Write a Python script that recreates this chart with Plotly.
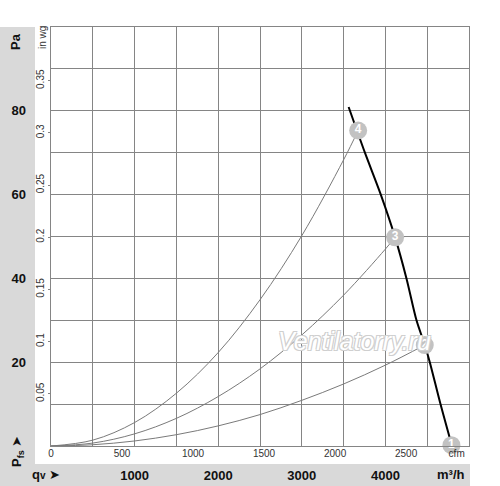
import plotly.graph_objects as go

# ---- data ----
# fan characteristic curve: flow (m3/h) vs static pressure (Pa)
fan_q = [3560, 3755, 3945, 4116, 4252, 4372, 4471, 4531, 4659, 4785]
fan_p = [80.9, 70.0, 60.0, 49.8, 40.0, 30.0, 24.1, 20.0, 10.0, 0.8]

# system (resistance) curves ending at operating points 4, 3, 2
sys4_q = [0, 500, 1000, 1500, 2000, 2500, 3000, 3500, 3674]
sys4_p = [0, 1.4, 5.6, 12.6, 22.3, 34.9, 50.2, 68.3, 75.3]
sys3_q = [0, 500, 1000, 1500, 2000, 2500, 3000, 3500, 4000, 4116]
sys3_p = [0, 0.7, 2.9, 6.6, 11.8, 18.4, 26.5, 36.0, 47.0, 49.8]
sys2_q = [0, 500, 1000, 1500, 2000, 2500, 3000, 3500, 4000, 4471]
sys2_p = [0, 0.3, 1.2, 2.7, 4.8, 7.5, 10.9, 14.8, 19.3, 24.1]

# operating points
pt_q = [4790, 4471, 4116, 3674]
pt_p = [0.2, 24.1, 49.8, 75.3]
pt_lbl = ["1", "2", "3", "4"]

# axis ticks
pa_ticks = [20, 40, 60, 80]
m3h_ticks = [1000, 2000, 3000, 4000]
cfm_ticks = [0, 500, 1000, 1500, 2000, 2500]
inwg_ticks = [0.05, 0.1, 0.15, 0.2, 0.25, 0.3, 0.35]
inwg_text = ["0.05", "0.1", "0.15", "0.2", "0.25", "0.3", "0.35"]

Q_MAX = 5000.0          # m3/h
P_MAX = 100.0           # Pa
CFM_PER_M3H = 1 / 1.699
INWG_PER_PA = 1 / 249.089

FONT = "Liberation Sans, Arial, sans-serif"
GRID = "#858585"
BAND = "#d9d9d9"

fig = go.Figure()

for q, p in [(sys4_q, sys4_p), (sys3_q, sys3_p), (sys2_q, sys2_p)]:
    fig.add_trace(go.Scatter(x=q, y=p, mode="lines",
                             line=dict(color="#7a7a7a", width=1, shape="spline", smoothing=1),
                             hoverinfo="skip", showlegend=False))

fig.add_trace(go.Scatter(x=fan_q, y=fan_p, mode="lines",
                         line=dict(color="black", width=2, shape="spline", smoothing=0.8),
                         showlegend=False))

fig.add_trace(go.Scatter(x=pt_q, y=pt_p, mode="markers+text", text=pt_lbl,
                         textposition="middle center",
                         textfont=dict(color="white", size=12, family=FONT, weight="bold"),
                         marker=dict(size=18, color="#c2c2c2", line=dict(width=0)),
                         cliponaxis=False, showlegend=False))

# empty carrier traces so the secondary (label) axes are drawn
for xa, ya in [("x2", "y"), ("x3", "y"), ("x", "y2"), ("x", "y3")]:
    fig.add_trace(go.Scatter(x=[], y=[], xaxis=xa, yaxis=ya, mode="markers",
                             hoverinfo="skip", showlegend=False))

fig.update_layout(
    width=500, height=486,
    margin=dict(l=51, r=31, t=27, b=40, pad=0, autoexpand=False),
    paper_bgcolor="white", plot_bgcolor="white",
    font=dict(family=FONT, color="#222"),
    xaxis=dict(range=[0, Q_MAX], dtick=500, tick0=0, showgrid=True,
               gridcolor=GRID, gridwidth=1, showticklabels=False,
               zeroline=False, showline=True, linecolor=GRID, mirror=True,
               fixedrange=True),
    yaxis=dict(range=[0, P_MAX], dtick=10, tick0=0, showgrid=True,
               gridcolor=GRID, gridwidth=1, showticklabels=False,
               zeroline=False, showline=True, linecolor=GRID, mirror=True,
               fixedrange=True),
    # Pa labels
    yaxis2=dict(overlaying="y", anchor="x", side="left", range=[0, P_MAX],
                tickvals=pa_ticks, showgrid=False, zeroline=False,
                showline=False, ticks="", automargin=False,
                tickfont=dict(size=13, color="#111", weight="bold"),
                ticklabelstandoff=24),
    # in wg labels
    yaxis3=dict(overlaying="y", anchor="x", side="left",
                range=[0, P_MAX * INWG_PER_PA], tickvals=inwg_ticks,
                ticktext=inwg_text, tickangle=-90, showgrid=False,
                zeroline=False, showline=False, ticks="outside", ticklen=2,
                tickcolor=GRID, tickfont=dict(size=10, color="#333"),
                automargin=False, ticklabelstandoff=0),
    # m3/h labels
    xaxis2=dict(overlaying="x", anchor="y", side="bottom", range=[0, Q_MAX],
                tickvals=m3h_ticks, showgrid=False, zeroline=False,
                showline=False, ticks="", automargin=False,
                tickfont=dict(size=13, color="#111", weight="bold"),
                ticklabelstandoff=20),
    # cfm labels
    xaxis3=dict(overlaying="x", anchor="y", side="bottom",
                range=[0, Q_MAX * CFM_PER_M3H],
                tickvals=cfm_ticks + [2856], ticktext=[str(v) for v in cfm_ticks] + ["cfm"],
                showgrid=False, zeroline=False, showline=False, ticks="",
                automargin=False,
                tickfont=dict(size=10, color="#333"), ticklabelstandoff=0),
)

W, H = 418.0, 419.0
def px(x):
    return (x - 51) / W
def py(y):
    return (446 - y) / H

fig.add_shape(type="rect", xref="paper", yref="paper", layer="below",
              x0=px(0), x1=px(35), y0=py(464), y1=py(27),
              fillcolor=BAND, line=dict(width=0))
fig.add_shape(type="rect", xref="paper", yref="paper", layer="below",
              x0=px(0), x1=px(470), y0=py(486), y1=py(464),
              fillcolor=BAND, line=dict(width=0))

ann = [
    dict(text="<b>Pa</b>", x=px(16), y=py(42), textangle=-90, font=dict(size=13, color="#111")),
    dict(text="in wg", x=px(42), y=py(38), textangle=-90, font=dict(size=10, color="#333")),
    dict(text="<b>P<sub>fs</sub></b> ➤", x=px(17), y=py(452), textangle=-90, font=dict(size=13, color="#111")),
    dict(text="<b>q<span style='font-size:10px'>v</span></b> ➤", x=px(46), y=py(474), font=dict(size=13, color="#111")),
    dict(text="<b>m³/h</b>", x=px(451), y=py(474), font=dict(size=13, color="#111")),
    dict(text="Ventilatorry.ru", x=px(354), y=py(341),
         font=dict(size=25, color="white", style="italic",
                   shadow="-1px -1px 0 #cfcfcf, 1px -1px 0 #cfcfcf, -1px 1px 0 #cfcfcf, 1px 1px 0 #cfcfcf")),
]
for a in ann:
    fig.add_annotation(xref="paper", yref="paper", showarrow=False,
                       xanchor="center", yanchor="middle", **a)

fig.write_html("out.html", config={"displayModeBar": False},
               post_script="document.body.style.margin='0px';")
